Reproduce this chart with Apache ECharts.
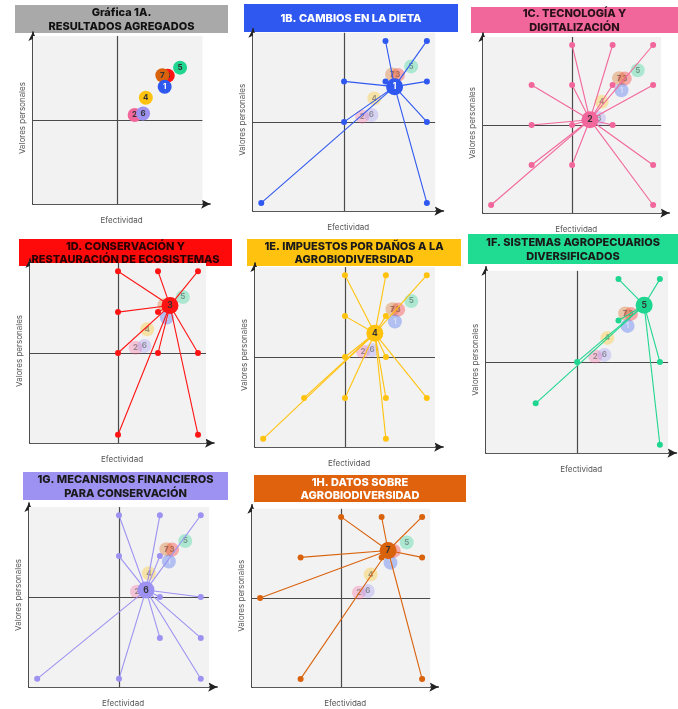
<!DOCTYPE html>
<html>
<head>
<meta charset="utf-8">
<script src="https://cdn.jsdelivr.net/npm/echarts@6/dist/echarts.min.js"></script>
<style>html,body{margin:0;padding:0;background:#fff;}#c{width:678px;height:709px;}</style>
</head>
<body>
<div id="c"></div>
<script>
// ---- data ----
var catIds = ['1','2','3','4','5','6','7'];
var avgX = [1.22, 0.44, 1.30, 0.73, 1.62, 0.66, 1.16];
var avgY = [0.87, 0.13, 1.16, 0.58, 1.37, 0.17, 1.17];
var resp1 = [[1,2],[2,2],[0,1],[1,1],[2,1],[0,0],[2,0],[-2,-2],[2,-2]];
var resp2 = [[0,2],[1,2],[2,2],[-1,1],[0,1],[1,1],[2,1],[-1,0],[0,0],[1,0],[-1,-1],[0,-1],[2,-1],[-2,-2],[2,-2]];
var resp3 = [[0,2],[1,2],[2,2],[0,1],[1,1],[0,0],[1,0],[2,0],[0,-2],[2,-2]];
var resp4 = [[0,2],[1,2],[2,2],[0,1],[1,1],[0,0],[1,0],[-1,-1],[0,-1],[1,-1],[2,-1],[-2,-2],[1,-2]];
var resp5 = [[1,2],[2,2],[1,1],[0,0],[2,0],[-1,-1],[2,-2]];
var resp6 = [[0,2],[1,2],[2,2],[0,1],[1,1],[1,0],[2,0],[1,-1],[2,-1],[-2,-2],[0,-2],[2,-2]];
var resp7 = [[0,2],[1,2],[2,2],[-1,1],[1,1],[2,1],[-2,0],[-1,-2],[2,-2]];
var responses = [resp1, resp2, resp3, resp4, resp5, resp6, resp7];
var panelTitles = [
  'Gráfica 1A.\nRESULTADOS AGREGADOS',
  '1B. CAMBIOS EN LA DIETA',
  '1C. TECNOLOGÍA Y\nDIGITALIZACIÓN',
  '1D. CONSERVACIÓN Y\nRESTAURACIÓN DE ECOSISTEMAS',
  '1E. IMPUESTOS POR DAÑOS A LA\nAGROBIODIVERSIDAD',
  '1F. SISTEMAS AGROPECUARIOS\nDIVERSIFICADOS',
  '1G. MECANISMOS FINANCIEROS\nPARA CONSERVACIÓN',
  '1H. DATOS SOBRE\nAGROBIODIVERSIDAD'
];
var xName = 'Efectividad';
var yName = 'Valores personales';

// ---- styles ----
var catColors = ['#2f58f0','#f2679b','#ff1414','#ffc30f','#1fd690','#9d92f2','#d9620d'];
var catLabelColors = ['#fff','#333','#333','#333','#333','#333','#333'];
var titleBg = ['#a9a9a9','#2f58f0','#f2679b','#ff0a0a','#ffc30f','#1fdc92','#9d92f2','#e0620c'];
var titleFg = ['#111','#fff','#2a1018','#2a0000','#1a1a1a','#1a1a1a','#1a1a1a','#fff'];
var drawOrder = [2,6,0,4,3,1,5]; // indices into catIds

// panel geometry: [axisLeftX, axisBottomY, unitX, unitY, titleX0, titleY0, titleX1, titleY1]
var geo = [
  [33, 204, 38.5, 38.2, 15, 5, 228, 33],
  [253, 211, 41.4, 40.5, 244, 4, 458, 32],
  [483, 213, 40.5, 40.0, 471, 7, 678, 33],
  [30, 443, 40.0, 40.9, 19, 239, 232, 266],
  [255, 447, 40.9, 40.9, 247, 239, 461, 266],
  [486, 453, 41.4, 41.4, 468, 234, 678, 264],
  [29, 687, 40.9, 40.9, 23, 472, 228, 500],
  [252, 687, 40.5, 40.5, 254, 475, 466, 502]
];
var XMIN = -2.2, XMAX = 2.4, YMIN = -2.2, YMAX = 2.3, BG = 2.2;

var grids = [], xAxes = [], yAxes = [], series = [], graphics = [];

for (var p = 0; p < 8; p++) {
  var g = geo[p];
  var w = (XMAX - XMIN) * g[2], h = (YMAX - YMIN) * g[3];
  grids.push({left: g[0], top: g[1] - h, width: w, height: h, containLabel: false});
  xAxes.push({
    type: 'value', gridIndex: p, min: XMIN, max: XMAX,
    axisLine: {show: true, onZero: false, symbol: ['none', 'arrow'], symbolSize: [7, 9], lineStyle: {color: '#222', width: 1.6}},
    axisTick: {show: false}, axisLabel: {show: false}, splitLine: {show: false},
    name: xName, nameLocation: 'middle', nameGap: 13,
    nameTextStyle: {fontSize: 8, color: '#555', fontFamily: 'Inter'}
  });
  yAxes.push({
    type: 'value', gridIndex: p, min: YMIN, max: YMAX,
    axisLine: {show: true, onZero: false, symbol: ['none', 'arrow'], symbolSize: [7, 9], lineStyle: {color: '#222', width: 1.6}},
    axisTick: {show: false}, axisLabel: {show: false}, splitLine: {show: false},
    name: yName, nameLocation: 'middle', nameGap: 6, nameRotate: 90,
    nameTextStyle: {fontSize: 8, color: '#555', fontFamily: 'Inter', verticalAlign: 'bottom'}
  });
  // background + cross lines
  series.push({
    type: 'scatter', xAxisIndex: p, yAxisIndex: p, data: [], z: 1, silent: true,
    markArea: {silent: true, itemStyle: {color: '#f2f2f2'}, data: [[{coord: [XMIN, YMIN]}, {coord: [BG, BG]}]]},
    markLine: {silent: true, symbol: ['none', 'none'], label: {show: false},
      lineStyle: {color: '#4a4a4a', width: 1.2, type: 'solid'},
      data: [[{coord: [0, YMIN]}, {coord: [0, BG]}], [{coord: [XMIN, 0]}, {coord: [BG, 0]}]]}
  });

  var hi = p - 1; // highlighted category index (-1 for aggregated)
  drawOrder.forEach(function (k, j) {
    if (k === hi) return;
    var faded = hi >= 0;
    series.push({
      type: 'scatter', xAxisIndex: p, yAxisIndex: p, z: 10 + j, symbolSize: 14, silent: true,
      itemStyle: {color: catColors[k], opacity: faded ? 0.33 : 1},
      label: {show: true, position: 'inside', formatter: catIds[k], fontSize: 8, fontWeight: 'bold', fontFamily: 'Inter',
        color: catLabelColors[k], opacity: faded ? 0.45 : 1},
      data: [[avgX[k], avgY[k]]]
    });
  });

  if (hi >= 0) {
    var col = catColors[hi];
    var cx = avgX[hi], cy = avgY[hi];
    series.push({
      type: 'lines', coordinateSystem: 'cartesian2d', xAxisIndex: p, yAxisIndex: p, z: 20, silent: true,
      lineStyle: {color: col, width: 1.1, opacity: 1},
      data: responses[hi].map(function (r) { return {coords: [[cx, cy], r]}; })
    });
    series.push({
      type: 'scatter', xAxisIndex: p, yAxisIndex: p, z: 21, symbolSize: 6, silent: true,
      itemStyle: {color: col, opacity: 1},
      data: responses[hi]
    });
    series.push({
      type: 'scatter', xAxisIndex: p, yAxisIndex: p, z: 22, symbolSize: 17, silent: true,
      itemStyle: {color: col, opacity: 1},
      label: {show: true, position: 'inside', formatter: catIds[hi], fontSize: 8.5, fontWeight: 'bold', color: catLabelColors[hi], fontFamily: 'Inter'},
      data: [[cx, cy]]
    });
  }

  // title box
  graphics.push({
    type: 'group', z: 100,
    children: [
      {type: 'rect', shape: {x: g[4], y: g[5], width: g[6] - g[4], height: g[7] - g[5]}, style: {fill: titleBg[p]}},
      {type: 'text', x: (g[4] + g[6]) / 2, y: (g[5] + g[7]) / 2 + 0.5,
        style: {text: panelTitles[p], fill: titleFg[p], font: '800 11px Inter', align: 'center', verticalAlign: 'middle', lineHeight: 13.5}}
    ]
  });
}

var chart = echarts.init(document.getElementById('c'), null, {renderer: 'canvas'});
chart.setOption({
  animation: false,
  grid: grids, xAxis: xAxes, yAxis: yAxes, series: series, graphic: graphics
});
</script>
</body>
</html>
